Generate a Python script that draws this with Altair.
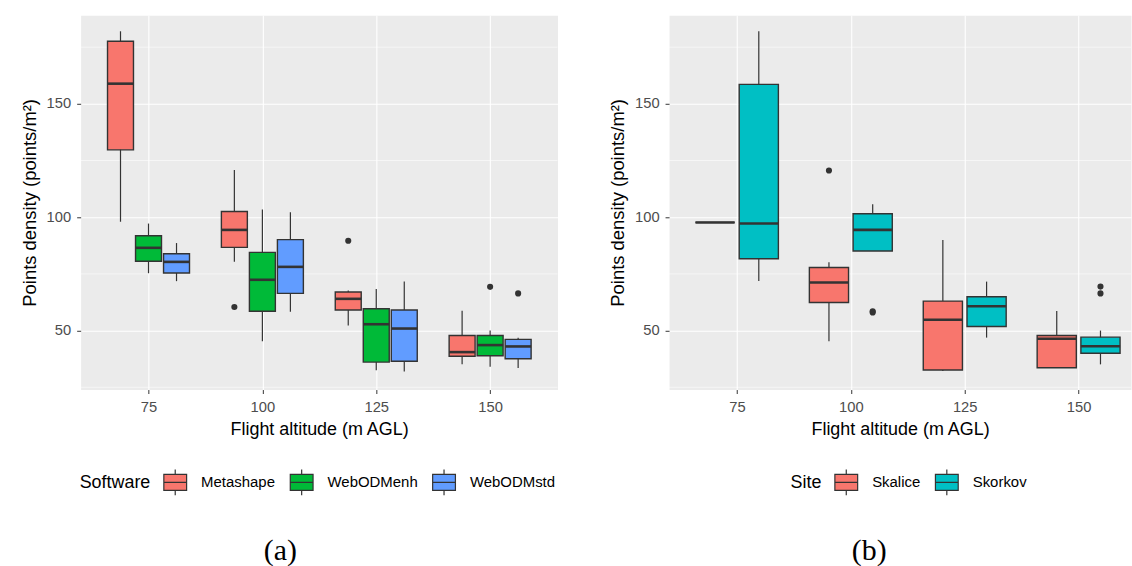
import json
import altair as alt
import pandas as pd

# ---------------- data ----------------
altitudes = [75, 100, 125, 150]

software = ["Metashape", "WebODMenh", "WebODMstd"]
software_colors = ["#F8766D", "#00BA38", "#619CFF"]

meta_lo = [98.0, 80.4, 52.2, 35.2]
meta_q1 = [129.7, 86.7, 59.1, 38.7]
meta_med = [158.9, 94.4, 64.0, 40.5]
meta_q3 = [177.6, 102.5, 67.0, 47.8]
meta_hi = [182.0, 120.8, 67.7, 58.8]

enh_lo = [75.3, 45.3, 32.5, 34.1]
enh_q1 = [80.6, 58.5, 36.1, 38.9]
enh_med = [86.5, 72.4, 52.8, 43.6]
enh_q3 = [91.8, 84.5, 59.6, 47.8]
enh_hi = [97.2, 103.4, 68.3, 50.0]

std_lo = [71.8, 58.3, 31.9, 33.5]
std_q1 = [75.4, 66.4, 36.5, 37.6]
std_med = [80.3, 78.1, 50.9, 43.0]
std_q3 = [83.9, 90.1, 59.1, 46.1]
std_hi = [88.6, 102.2, 71.6, 46.8]

sw_out_group = ["Metashape", "Metashape", "WebODMenh", "WebODMstd"]
sw_out_alt = [100, 125, 150, 150]
sw_out_val = [60.4, 89.6, 69.3, 66.4]

sites = ["Skalice", "Skorkov"]
site_colors = ["#F8766D", "#00BFC4"]

ska_lo = [97.7, 45.3, 32.2, 33.6]
ska_q1 = [97.7, 62.4, 32.6, 33.6]
ska_med = [97.7, 71.2, 54.8, 46.4]
ska_q3 = [97.7, 77.8, 63.0, 47.8]
ska_hi = [97.7, 80.1, 89.9, 58.6]

sko_lo = [71.9, 85.1, 46.9, 35.1]
sko_q1 = [81.7, 85.1, 51.8, 40.0]
sko_med = [97.2, 94.4, 60.7, 43.1]
sko_q3 = [158.6, 101.5, 64.9, 47.1]
sko_hi = [182.0, 105.7, 71.6, 50.0]

site_out_group = ["Skalice", "Skorkov", "Skorkov", "Skorkov", "Skorkov"]
site_out_alt = [100, 100, 100, 150, 150]
site_out_val = [120.6, 58.0, 58.5, 69.4, 66.4]

y_major = [50, 100, 150]
y_minor = [25, 75, 125, 175]


def box_table(groups, series):
    rows = []
    for g, (lo, q1, med, q3, hi) in zip(groups, series):
        for i, a in enumerate(altitudes):
            rows.append(dict(group=g, altitude=a, lo=lo[i], q1=q1[i],
                             med=med[i], q3=q3[i], hi=hi[i]))
    return pd.DataFrame(rows)


sw_box = box_table(software, [
    (meta_lo, meta_q1, meta_med, meta_q3, meta_hi),
    (enh_lo, enh_q1, enh_med, enh_q3, enh_hi),
    (std_lo, std_q1, std_med, std_q3, std_hi),
])
sw_out = pd.DataFrame(dict(group=sw_out_group, altitude=sw_out_alt, value=sw_out_val))

site_box = box_table(sites, [
    (ska_lo, ska_q1, ska_med, ska_q3, ska_hi),
    (sko_lo, sko_q1, sko_med, sko_q3, sko_hi),
])
site_out = pd.DataFrame(dict(group=site_out_group, altitude=site_out_alt, value=site_out_val))

FONT = "Liberation Sans"
DARK = "#333333"
BOX_SYMBOL = "M0,-1V-0.62M-0.88,-0.62H0.88V0.62H-0.88ZM-0.88,0H0.88M0,0.62V1"


def panel(box_df, out_df, groups, colors, legend_title, step, half,
          width, xmax, legend_x, caption, caption_dx):
    xs = alt.Scale(domain=[60.1, xmax], nice=False, zero=False)
    ys = alt.Scale(domain=[24.0, 189.1], nice=False, zero=False)
    xaxis = alt.Axis(values=altitudes, grid=True, gridColor="white", gridWidth=1.1,
                     domain=False, tickColor=DARK, tickSize=4, tickWidth=1,
                     labelFont=FONT, labelFontSize=14.8, labelColor="#4D4D4D",
                     labelPadding=6, titleFont=FONT, titleFontSize=18,
                     titleFontWeight="normal", titleColor="black", titlePadding=6)
    yaxis = alt.Axis(values=y_major, grid=True, gridColor="white", gridWidth=1.1,
                     domain=False, tickColor=DARK, tickSize=4, tickWidth=1,
                     labelFont=FONT, labelFontSize=14.8, labelColor="#4D4D4D",
                     labelPadding=6, titleFont=FONT, titleFontSize=18.5,
                     titleFontWeight="normal", titleColor="black", titlePadding=7)
    xtitle = "Flight altitude (m AGL)"
    ytitle = "Points density (points/m²)"

    def X(f):
        return alt.X(f, type="quantitative", scale=xs, axis=xaxis, title=xtitle)

    def Y(f):
        return alt.Y(f, type="quantitative", scale=ys, axis=yaxis, title=ytitle)

    centre = (len(groups) - 1) / 2
    xc_expr = (f"datum.altitude + (indexof({json.dumps(groups)}, datum.group) - {centre})"
               f" * {step}")

    base = (alt.Chart(box_df)
            .transform_calculate(xc=xc_expr)
            .transform_calculate(x1=f"datum.xc - {half}", x2=f"datum.xc + {half}"))

    minor = (alt.Chart(pd.DataFrame({"v": y_minor}))
             .mark_rule(color="white", strokeWidth=0.55)
             .encode(y=Y("v")))

    whisk = base.mark_rule(color=DARK, strokeWidth=1.2).encode(
        x=X("xc"), y=Y("lo"), y2="hi")

    legend = alt.Legend(
        orient="none", legendX=legend_x, legendY=455, direction="horizontal",
        title=legend_title, titleOrient="left", titleFont=FONT, titleFontSize=18,
        titleFontWeight="normal", titleColor="black", titlePadding=10,
        titleAnchor="middle", titleBaseline="middle",
        labelFont=FONT, labelFontSize=15, labelColor="black", labelOffset=12,
        columnPadding=12, symbolType=BOX_SYMBOL, symbolSize=676,
        symbolStrokeColor=DARK, symbolStrokeWidth=1.2, symbolOpacity=1, padding=0)

    box = base.mark_bar(stroke=DARK, strokeWidth=1.4, opacity=1).encode(
        x=X("x1"), x2="x2", y=Y("q1"), y2="q3",
        fill=alt.Fill("group:N", scale=alt.Scale(domain=groups, range=colors),
                      legend=legend, title=legend_title))

    med = base.mark_rule(color=DARK, strokeWidth=2.6).encode(
        x=X("x1"), x2="x2", y=Y("med"))

    pts = (alt.Chart(out_df)
           .transform_calculate(xc=xc_expr)
           .mark_circle(color=DARK, opacity=1, size=38)
           .encode(x=X("xc"), y=Y("value")))

    return alt.layer(minor, whisk, box, med, pts).properties(
        width=width, height=376,
        title=alt.TitleParams(caption, orient="bottom", anchor="middle",
                              font="Liberation Serif", fontSize=30,
                              fontWeight="normal", color="black",
                              dx=caption_dx, offset=38))


left = panel(sw_box, sw_out, software, software_colors, "Software",
             step=6.15, half=2.85, width=479, xmax=164.8,
             legend_x=-1, caption="(a)", caption_dx=-39)
right = panel(site_box, site_out, sites, site_colors, "Site",
              step=9.6, half=4.3, width=464, xmax=161.5,
              legend_x=122, caption="(b)", caption_dx=-31)

chart = (alt.hconcat(left, right, spacing=49)
         .resolve_scale(fill="independent", x="independent", y="independent")
         .resolve_legend(fill="independent")
         .properties(padding={"left": 19, "top": 13, "right": 0, "bottom": 0},
                     background="white")
         .configure_view(fill="#EBEBEB", stroke="transparent"))

chart.save("out.html", embed_options={"renderer": "svg", "actions": False})
